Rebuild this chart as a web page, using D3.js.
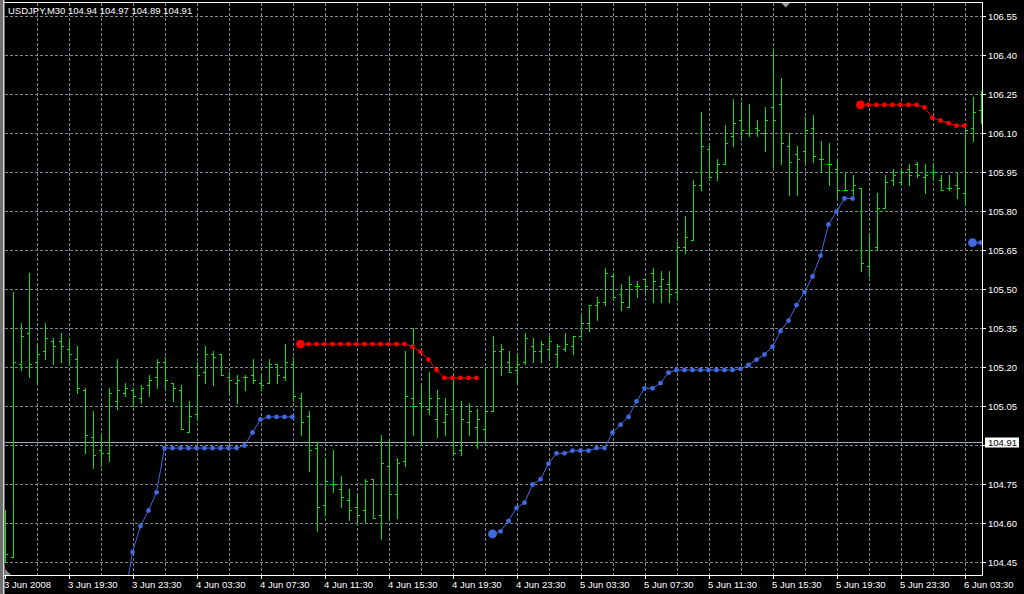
<!DOCTYPE html>
<html><head><meta charset="utf-8">
<script src="https://cdn.jsdelivr.net/npm/d3@7"></script>
<style>
html,body{margin:0;padding:0;background:#000;overflow:hidden}
svg{display:block}
text{font-family:"Liberation Sans",Arial,sans-serif;font-size:9.5px}
</style></head><body>
<svg id="c" width="1024" height="594"></svg>
<script>
// ---------- data ----------
const symbol = "USDJPY,M30";
const lastQuote = ["104.94", "104.97", "104.89", "104.91"];
const bidPrice = 104.91;
const priceTicks = [104.45, 104.60, 104.75, 104.90, 105.05, 105.20, 105.35, 105.50,
  105.65, 105.80, 105.95, 106.10, 106.25, 106.40, 106.55];
const timeLabels = ["3 Jun 2008", "3 Jun 19:30", "3 Jun 23:30", "4 Jun 03:30", "4 Jun 07:30",
  "4 Jun 11:30", "4 Jun 15:30", "4 Jun 19:30", "4 Jun 23:30", "5 Jun 03:30", "5 Jun 07:30",
  "5 Jun 11:30", "5 Jun 15:30", "5 Jun 19:30", "5 Jun 23:30", "6 Jun 03:30"];
const barsPerLabel = 8;
const barsPerGrid = 4;

const opens = [104.47,104.47,105.21,105.33,105.22,105.26,105.30,105.30,105.27,105.23,
  105.11,104.93,104.88,104.87,105.07,105.10,105.11,105.08,105.13,105.16,
  105.22,105.14,105.11,104.95,105.02,105.18,105.25,105.25,105.16,105.14,
  105.16,105.17,105.14,105.14,105.21,105.16,105.21,105.08,105.01,104.89,
  104.67,104.75,104.73,104.69,104.66,104.65,104.77,104.63,104.82,104.71,
  104.84,105.08,105.06,105.04,105.00,104.99,105.04,104.88,104.99,104.97,
  104.96,105.03,105.26,105.22,105.19,105.22,105.28,105.26,105.27,105.25,
  105.27,105.28,105.32,105.37,105.44,105.45,105.55,105.48,105.43,105.51,
  105.54,105.56,105.51,105.52,105.49,105.66,105.69,105.90,106.04,105.95,
  105.98,106.09,106.15,106.10,106.12,106.10,106.20,106.21,106.05,106.02,
  106.03,106.12,106.00,105.98,105.96,105.88,105.88,105.89,105.59,105.66,
  105.81,105.92,105.91,105.96,105.98,105.93,105.95,105.92,105.89,105.90,
  105.87,106.12,106.19];
const highs = [104.65,105.49,105.37,105.56,105.29,105.37,105.31,105.33,105.31,105.28,
  105.12,105.03,104.94,105.12,105.23,105.14,105.12,105.13,105.17,105.23,
  105.24,105.14,105.13,105.07,105.22,105.28,105.26,105.25,105.18,105.17,
  105.17,105.23,105.17,105.23,105.21,105.29,105.24,105.10,105.03,104.91,
  104.85,104.88,104.78,104.73,104.71,104.77,104.77,104.94,104.92,104.85,
  105.26,105.35,105.13,105.18,105.11,105.08,105.15,105.07,105.06,105.04,
  105.20,105.32,105.29,105.26,105.25,105.33,105.31,105.30,105.32,105.29,
  105.33,105.32,105.40,105.44,105.47,105.58,105.56,105.52,105.55,105.53,
  105.54,105.58,105.57,105.57,105.68,105.78,105.92,106.18,106.05,106.00,
  106.13,106.23,106.22,106.21,106.15,106.20,106.42,106.31,106.10,106.05,
  106.16,106.17,106.07,106.06,106.00,105.95,105.94,105.89,105.71,105.87,
  105.94,105.96,105.96,105.98,105.99,105.98,105.98,105.94,105.94,105.95,
  106.11,106.24,106.26];
const lows = [104.45,104.47,105.19,105.16,105.14,105.23,105.21,105.22,105.21,105.10,
  104.87,104.81,104.82,104.84,105.04,105.09,105.05,105.06,105.09,105.12,
  105.12,105.07,104.96,104.95,105.00,105.14,105.13,105.17,105.10,105.06,
  105.11,105.14,105.11,105.14,105.14,105.15,105.07,104.94,104.80,104.57,
  104.63,104.72,104.66,104.61,104.60,104.60,104.62,104.54,104.61,104.62,
  104.82,104.94,104.90,105.02,104.93,104.94,104.86,104.86,104.94,104.89,
  104.91,105.03,105.17,105.18,105.14,105.21,105.22,105.22,105.23,105.20,
  105.26,105.25,105.32,105.34,105.38,105.44,105.46,105.42,105.43,105.47,
  105.49,105.45,105.45,105.45,105.46,105.64,105.69,105.88,105.93,105.92,
  105.98,106.05,106.08,106.09,106.09,106.03,105.97,105.98,105.86,105.86,
  105.99,105.99,105.95,105.90,105.85,105.88,105.86,105.57,105.55,105.65,
  105.81,105.90,105.90,105.90,105.93,105.87,105.92,105.88,105.88,105.85,
  105.83,106.07,106.14];
const closes = [104.48,105.22,105.32,105.21,105.25,105.31,105.28,105.28,105.25,105.12,
  104.94,104.86,104.87,105.10,105.11,105.12,105.09,105.12,105.15,105.22,
  105.15,105.12,104.96,105.01,105.17,105.25,105.24,105.17,105.15,105.15,
  105.16,105.15,105.13,105.21,105.17,105.22,105.09,104.99,104.88,104.66,
  104.76,104.75,104.70,104.65,104.63,104.76,104.62,104.83,104.71,104.83,
  105.09,105.05,105.05,105.08,105.08,105.02,104.87,105.00,105.03,105.00,
  105.03,105.26,105.27,105.18,105.21,105.31,105.26,105.29,105.30,105.28,
  105.29,105.32,105.37,105.44,105.45,105.56,105.47,105.45,105.52,105.51,
  105.51,105.53,105.54,105.48,105.66,105.70,105.90,106.05,105.93,105.98,
  106.06,106.14,106.11,106.10,106.11,106.15,106.15,106.06,105.99,106.00,
  106.11,106.01,106.00,105.98,105.88,105.88,105.90,105.60,105.65,105.81,
  105.91,105.94,105.95,105.94,105.94,105.94,105.95,105.88,105.89,105.89,
  106.11,106.18,106.18];

// indicator: blue support (up) and red resistance (down)
const upSeg1 = [104.31,104.49,104.59,104.65,104.72,104.89,104.89,104.89,104.89,104.89,
  104.89,104.89,104.89,104.89,104.89,104.90,104.95,105.00,105.01,105.01,105.01,105.01]; // from bar 15
const upSeg2 = [104.56,104.57,104.61,104.66,104.68,104.75,104.77,104.83,104.87,104.87,
  104.88,104.88,104.88,104.89,104.89,104.95,104.98,105.01,105.07,105.12,105.12,105.14,
  105.18,105.19,105.19,105.19,105.19,105.19,105.19,105.19,105.19,105.195,105.21,105.23,
  105.25,105.28,105.34,105.38,105.44,105.49,105.55,105.63,105.75,105.80,105.85,105.85]; // from bar 61
const upSeg3 = [105.68, 105.68]; // from bar 121
const downSeg1 = [105.29,105.29,105.29,105.29,105.29,105.29,105.29,105.29,105.29,105.29,
  105.29,105.29,105.29,105.29,105.28,105.26,105.23,105.19,105.16,105.16,105.16,105.16,105.16]; // from bar 37
const downSeg2 = [106.21,106.21,106.21,106.21,106.21,106.21,106.21,106.21,106.20,106.16,
  106.15,106.14,106.13,106.13]; // from bar 107
const upStarts = [15, 61, 121];
const downStarts = [37, 107];
const upBig = [61, 121];
const downBig = [37, 107];

const N = opens.length;
const upLine = new Array(N).fill(null);
const downLine = new Array(N).fill(null);
[upSeg1, upSeg2, upSeg3].forEach((s, k) => s.forEach((v, j) => upLine[upStarts[k] + j] = v));
[downSeg1, downSeg2].forEach((s, k) => s.forEach((v, j) => downLine[downStarts[k] + j] = v));

// ---------- drawing ----------
const svg = d3.select("#c");
const W = 1024, H = 594;
const plot = {left: 4, top: 2, right: 982, bottom: 575};
const x = d3.scaleLinear().domain([0, N - 1]).range([5.5, 981.5]);
const y = d3.scaleLinear().domain([104.45, 106.55]).range([562.5, 16.5]);
const gridColor = "#778899";
const barColor = "#00e400";
const upColor = "#4169e1";
const downColor = "#ff0000";

svg.append("rect").attr("width", W).attr("height", H).attr("fill", "#000");

svg.append("clipPath").attr("id", "pc").append("rect")
  .attr("x", plot.left + 1).attr("y", plot.top + 1)
  .attr("width", plot.right - plot.left - 1).attr("height", plot.bottom - plot.top - 1);

// grid
const grid = svg.append("g").attr("stroke", gridColor).attr("stroke-dasharray", "3,2")
  .attr("shape-rendering", "crispEdges");
d3.range(barsPerGrid, N, barsPerGrid).forEach(i => {
  grid.append("line").attr("x1", x(i)).attr("x2", x(i))
    .attr("y1", plot.top + 1).attr("y2", plot.bottom);
});
priceTicks.forEach(p => {
  grid.append("line").attr("x1", plot.left + 1).attr("x2", plot.right)
    .attr("y1", Math.floor(y(p)) + 0.5).attr("y2", Math.floor(y(p)) + 0.5);
});

// bid line
svg.append("line").attr("x1", plot.left + 1).attr("x2", plot.right)
  .attr("y1", Math.floor(y(bidPrice)) + 0.5).attr("y2", Math.floor(y(bidPrice)) + 0.5)
  .attr("stroke", "#a3adbb").attr("shape-rendering", "crispEdges");

// OHLC bars
const bars = svg.append("g").attr("clip-path", "url(#pc)").attr("fill", barColor)
  .attr("shape-rendering", "crispEdges");
const bd = d3.range(N).map(i => ({i, o: opens[i], h: highs[i], l: lows[i], c: closes[i]}));
const px = d => Math.floor(x(d.i));
const py = v => Math.round(y(v) - 0.5);
bars.selectAll(".hl").data(bd).join("rect")
  .attr("x", px).attr("width", 1)
  .attr("y", d => py(d.h)).attr("height", d => py(d.l) - py(d.h) + 1);
bars.selectAll(".op").data(bd).join("rect")
  .attr("x", d => px(d) - 2).attr("width", 2)
  .attr("y", d => py(d.o)).attr("height", 1);
bars.selectAll(".cl").data(bd).join("rect")
  .attr("x", d => px(d) + 1).attr("width", 2)
  .attr("y", d => py(d.c)).attr("height", 1);

// indicator lines
const ind = svg.append("g").attr("clip-path", "url(#pc)");
function drawInd(vals, big, color) {
  const pts = vals.map((v, i) => ({i, v}));
  const line = d3.line().defined(d => d.v !== null)
    .x(d => x(d.i) - 1).y(d => y(d.v));
  ind.append("path").attr("d", line(pts)).attr("fill", "none")
    .attr("stroke", color).attr("stroke-width", 1);
  const dots = pts.filter(d => d.v !== null);
  ind.append("g").selectAll("circle").data(dots).join("circle")
    .attr("cx", d => x(d.i) - 1).attr("cy", d => y(d.v))
    .attr("r", d => big.includes(d.i) ? 4.4 : 2.4)
    .attr("fill", color);
}
drawInd(upLine, upBig, upColor);
drawInd(downLine, downBig, downColor);

// frame
const frame = svg.append("g").attr("stroke", "#fff").attr("shape-rendering", "crispEdges");
frame.append("line").attr("x1", plot.left).attr("x2", plot.right + 1)
  .attr("y1", plot.top + 0.5).attr("y2", plot.top + 0.5);
frame.append("line").attr("x1", plot.left).attr("x2", plot.right + 1)
  .attr("y1", plot.bottom + 0.5).attr("y2", plot.bottom + 0.5);
frame.append("line").attr("x1", plot.right + 0.5).attr("x2", plot.right + 0.5)
  .attr("y1", plot.top).attr("y2", plot.bottom + 1);
svg.append("rect").attr("x", 0).attr("y", 0).attr("width", 3).attr("height", H).attr("fill", "#6e6e6e");
svg.append("rect").attr("x", 3).attr("y", 0).attr("width", 1.5).attr("height", H).attr("fill", "#d8d8d8");

// right price axis (the 104.90 label is covered by the bid label box)
const ra = svg.append("g");
priceTicks.forEach(p => {
  const yy = Math.floor(y(p)) + 0.5;
  ra.append("line").attr("x1", plot.right).attr("x2", plot.right + 4)
    .attr("y1", yy).attr("y2", yy).attr("stroke", "#fff").attr("shape-rendering", "crispEdges");
  if (Math.abs(p - bidPrice) > 0.03) {
    ra.append("text").attr("x", plot.right + 6).attr("y", yy).attr("dy", "0.35em")
      .attr("fill", "#fff").text(p.toFixed(2));
  }
});
// bid label
const by = Math.floor(y(bidPrice)) + 0.5;
ra.append("rect").attr("x", plot.right + 3).attr("y", by - 5).attr("width", 34).attr("height", 10)
  .attr("fill", "#fff");
ra.append("text").attr("x", plot.right + 6).attr("y", by).attr("dy", "0.35em")
  .attr("fill", "#000").text(bidPrice.toFixed(2));

// bottom time axis
const ba = svg.append("g");
timeLabels.forEach((t, k) => {
  const xx = x(k * barsPerLabel);
  ba.append("line").attr("x1", xx).attr("x2", xx).attr("y1", plot.bottom).attr("y2", plot.bottom + 4)
    .attr("stroke", "#fff").attr("shape-rendering", "crispEdges");
  ba.append("text").attr("x", xx - 1.5).attr("y", 588).attr("fill", "#fff").text(t);
});

// title
svg.append("text").attr("x", 8).attr("y", 14).attr("fill", "#fff")
  .text(symbol + "  " + lastQuote.join(" "));

// markers (chart shift / scroll)
svg.append("path").attr("d", "M781.5,3 L790,3 L785.75,7.5 Z").attr("fill", "#9a9a9a");
svg.append("path").attr("d", "M5,569 L5,575 L11,575 Z").attr("fill", "#8a8a8a");
</script>
</body></html>
